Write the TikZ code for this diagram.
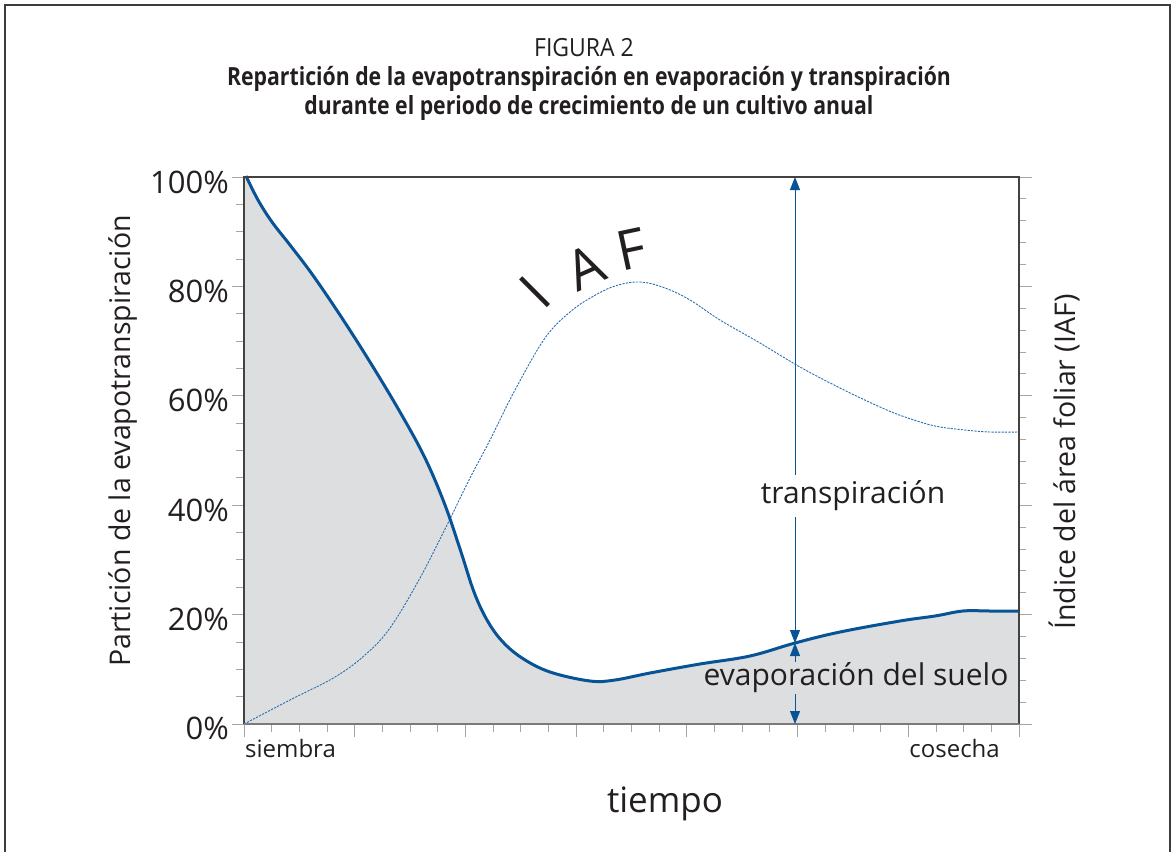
\documentclass[tikz,border=0pt]{standalone}
\usepackage{fontspec}
\setmainfont{Open Sans}
\usetikzlibrary{arrows.meta}
\definecolor{cblue}{RGB}{8,82,150}
\definecolor{cdash}{RGB}{40,110,178}
\definecolor{cgray}{RGB}{221,222,224}
\definecolor{ctext}{RGB}{35,31,32}
\definecolor{ctick}{RGB}{165,165,165}
\definecolor{cframe}{RGB}{60,60,60}
\begin{document}
\begin{tikzpicture}[x=1pt,y=-1pt,
  every node/.style={text=ctext,inner sep=0pt},
  frame/.style={draw=cframe,line width=1.8pt},
  axbox/.style={draw=ctext!85,line width=1.1pt},
  tickline/.style={draw=ctick,line width=0.9pt},
  evapline/.style={draw=cblue,line width=3pt,line join=round},
  iafline/.style={draw=cdash,line width=0.9pt,dash pattern=on 2.2pt off 1.2pt},
  arr/.style={draw=cblue,line width=1pt,-{Triangle[length=13pt,width=10pt]}},
  ticklab/.style={font=\fontsize{31}{36}\selectfont,anchor=east},
  lab/.style={font=\fontsize{30}{35}\selectfont},
  axlab/.style={font=\fontsize{28.5}{34}\selectfont},
  small/.style={font=\fontsize{24}{28}\selectfont},
  iafl/.style={font=\fontsize{55}{60}\selectfont,text height=39pt,text depth=0pt}]
\useasboundingbox (0,0) rectangle (1171,852);
% outer frame
\draw[frame] (5,853) -- (5,5) -- (1170,5) -- (1170,853);
% titles
\node (fig) at (584,48) {\fontsize{25}{29}\selectfont\scalebox{0.92}[1]{FIGURA 2}};
\node (t1) at (589,79) {\fontsize{25}{29}\selectfont\bfseries\scalebox{0.85}[1]{Repartición de la evapotranspiración en evaporación y transpiración}};
\node (t2) at (589,108) {\fontsize{25}{29}\selectfont\bfseries\scalebox{0.85}[1]{durante el periodo de crecimiento de un cultivo anual}};
% gray area under evaporation curve
\def\evappts{(246,176) (258,200) (272,222) (290,245) (312,274) (340,315) (370,362) (400,412) (425,458) (445,505) (461,552) (474,592) (487,620) (502,641) (522,658) (550,672) (590,681) (615,680) (650,673) (700,664) (750,656) (795,643) (840,632) (900,621) (935,616) (963,611) (990,611) (1019,611)}
\fill[cgray] (244,724) -- (244,177) -- plot[smooth,tension=0.6] coordinates {\evappts} -- (1019,724) -- cycle;
% IAF curve
\draw[iafline] plot[smooth,tension=0.6] coordinates {(244,724) (290,700) (335,677) (365,655) (390,628) (420,578) (448,523) (469,480) (490,440) (515,390) (545,338) (570,312) (592,297) (615,286) (640,282) (665,288) (690,300) (720,320) (760,343) (800,367) (840,388) (880,407) (905,417) (935,426) (965,430) (990,432) (1019,432)};
% evaporation curve
\draw[evapline] plot[smooth,tension=0.6] coordinates {\evappts};
% ticks
\foreach \k in {0,...,20}{
  \pgfmathsetmacro\yy{177+\k*27.35}
  \pgfmathtruncatemacro\m{mod(\k,4)}
  \ifnum\m=0 \draw[tickline] (232,\yy) -- (244,\yy); \else \draw[tickline] (236,\yy) -- (244,\yy); \fi
}
\foreach \k in {0,...,25}{
  \pgfmathsetmacro\yy{177+\k*21.88}
  \pgfmathtruncatemacro\m{mod(\k,5)}
  \ifnum\m=0 \draw[tickline] (1019,\yy) -- (1032,\yy); \else \draw[tickline] (1019,\yy) -- (1026,\yy); \fi
}
\foreach \k in {0,...,28}{
  \pgfmathsetmacro\xx{244+\k*27.68}
  \pgfmathtruncatemacro\m{mod(\k,4)}
  \ifnum\m=0 \draw[tickline] (\xx,724) -- (\xx,737); \else \draw[tickline] (\xx,724) -- (\xx,732); \fi
}
% axis box
\draw[axbox] (244,724) -- (244,177) -- (1019,177) -- (1019,724);
\draw[draw=ctext!60,line width=1.2pt] (244,724) -- (1019,724);
% tick labels
\node[ticklab] (l100) at (229,182) {100\%};
\node[ticklab] (l80) at (229,291) {80\%};
\node[ticklab] (l60) at (229,400) {60\%};
\node[ticklab] (l40) at (229,510) {40\%};
\node[ticklab] (l20) at (229,619) {20\%};
\node[ticklab] (l0) at (229,728) {0\%};
% axis labels
\node[axlab,rotate=90] (ylab) at (123,441) {Partición de la evapotranspiración};
\node[axlab,rotate=90] (rlab) at (1064,462) {Índice del área foliar (IAF)};
\node[font=\fontsize{35}{40}\selectfont,anchor=base] (tiempo) at (665,812) {tiempo};
\node[small,anchor=base west] (siembra) at (245,757) {siembra};
\node[small,anchor=base east] (cosecha) at (1000,757) {cosecha};
% IAF letters
\node[iafl,rotate=45] (lI) at (535,292) {I};
\node[iafl,rotate=24] (lA) at (585,268) {A};
\node[iafl,rotate=12] (lF) at (631,249) {F};
% arrows
\coordinate (axtop) at (795,177);
\coordinate (cpt) at (795,643);
\coordinate (axbot) at (795,724);
\node[lab,minimum height=42pt] (trans) at (853,496) {transpiración};
\node[lab,minimum height=32pt] (evap) at (856,678) {evaporación del suelo};
\draw[arr] (trans.north -| axtop) -- (axtop);
\draw[arr] (trans.south -| axtop) -- (cpt);
\draw[arr] (evap.north -| axtop) -- (cpt);
\draw[arr] (evap.south -| axtop) -- (axbot);
\end{tikzpicture}
\end{document}
